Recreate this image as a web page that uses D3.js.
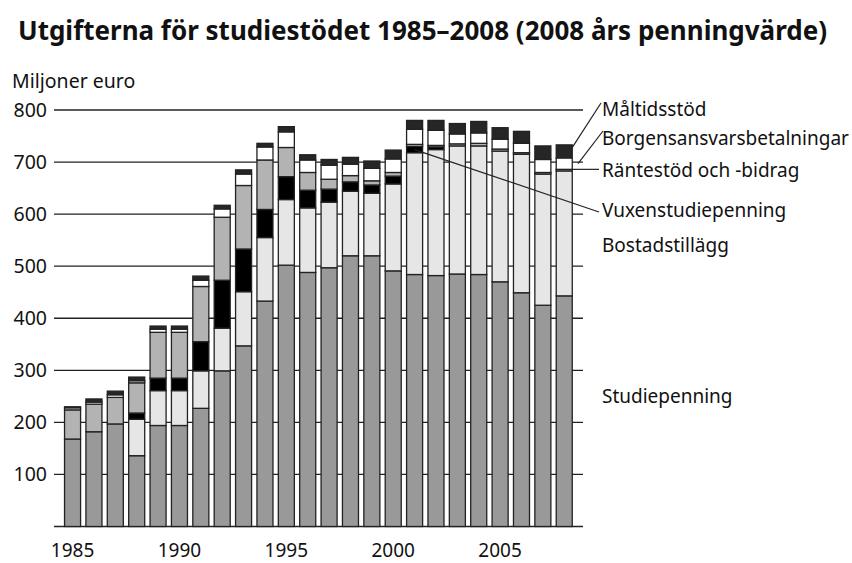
<!DOCTYPE html>
<html>
<head>
<meta charset="utf-8">
<script src="https://cdn.jsdelivr.net/npm/d3@7"></script>
<style>
  body { margin: 0; background: #fff; }
  text { font-family: "Noto Sans", sans-serif; fill: #111; }
</style>
</head>
<body>
<div id="chart"></div>
<script>
// years and series (million euro, 2008 money), stacked bottom -> top
const years = d3.range(1985, 2009)
const studiepenning = [168,182,197,136,194,194,227,299,347,433,502,488,497,520,520,491,484,482,485,484,470,449,425,443]
const bostadstillagg = [0,0,0,70,67,67,72,82,104,122,126,124,126,124,120,167,234,242,246,247,251,266,252,240]
const vuxenstudiepenning = [0,0,0,12,24,24,56,92,82,54,44,34,25,18,16,15,12,5,0,0,0,0,0,0]
const rantestod = [56,53,51,58,88,88,106,121,122,95,56,34,19,12,8,7,4,3,4,5,4,3,3,3]
const borgensansvar = [4,4,5,4,6,6,12,16,22,25,30,24,27,22,24,26,29,29,19,20,19,18,25,22]
const maltidsstod = [2,6,7,7,6,6,8,7,8,7,10,10,11,13,14,17,17,19,20,22,22,23,26,25]
const yTicks = [100,200,300,400,500,600,700,800]
const xTicks = [1985,1990,1995,2000,2005]

const series = [
  {key: "Studiepenning", values: studiepenning, color: "#999999"},
  {key: "Bostadstillägg", values: bostadstillagg, color: "#e6e6e6"},
  {key: "Vuxenstudiepenning", values: vuxenstudiepenning, color: "#000000"},
  {key: "Räntestöd och -bidrag", values: rantestod, color: "#b3b3b3"},
  {key: "Borgensansvarsbetalningar", values: borgensansvar, color: "#ffffff"},
  {key: "Måltidsstöd", values: maltidsstod, color: "#262626"}
]

const rows = years.map((yr, i) => {
  const r = {year: yr}
  series.forEach(s => r[s.key] = s.values[i])
  return r
})

const svg = d3.select("#chart").append("svg")
    .attr("width", 852)
    .attr("height", 563)

const x = d3.scaleBand().domain(years).range([59.2, 577.6]).padding(0.25)
const y = d3.scaleLinear().domain([0, 800]).range([526.5, 110])

svg.append("text")
    .attr("x", 18).attr("y", 40)
    .style("font-size", "26px").style("font-weight", "bold")
    .text("Utgifterna för studiestödet 1985–2008 (2008 års penningvärde)")

svg.append("text")
    .attr("x", 12).attr("y", 88)
    .style("font-size", "19.5px")
    .text("Miljoner euro")

// gridlines
svg.append("g").selectAll("line")
  .data([0].concat(yTicks))
  .enter().append("line")
    .attr("x1", 54).attr("x2", 583)
    .attr("y1", d => y(d)).attr("y2", d => y(d))
    .attr("stroke", "#222").attr("stroke-width", 1.3)

svg.append("g").selectAll("text")
  .data(yTicks)
  .enter().append("text")
    .attr("x", 47).attr("y", d => y(d) + 6.5)
    .attr("text-anchor", "end")
    .style("font-size", "19.5px")
    .text(d => d)

svg.append("g").selectAll("text")
  .data(xTicks)
  .enter().append("text")
    .attr("x", d => x(d) + x.bandwidth() / 2).attr("y", 557)
    .attr("text-anchor", "middle")
    .style("font-size", "19px")
    .text(d => d)

const stack = d3.stack().keys(series.map(s => s.key))
const stacked = stack(rows)

svg.append("g").selectAll("g")
  .data(stacked)
  .enter().append("g")
    .attr("fill", (d, i) => series[i].color)
  .selectAll("rect")
  .data(d => d)
  .enter().append("rect")
    .attr("x", d => x(d.data.year))
    .attr("width", x.bandwidth())
    .attr("y", d => y(d[1]))
    .attr("height", d => y(d[0]) - y(d[1]))
    .attr("stroke", "#222").attr("stroke-width", 1.3)
    .style("display", d => d[1] - d[0] > 0 ? null : "none")

// labels with pointer lines
const last = stacked.map(s => s[s.length - 1])
const bar2001 = stacked[2][years.indexOf(2001)]
const xr = x(2008) + x.bandwidth()

const labels = [
  {text: "Måltidsstöd", ty: 116, line: [[601, 103], [572, y(last[5][1]) + 3]]},
  {text: "Borgensansvarsbetalningar", ty: 145, line: [[603, 131], [578, y((last[4][0] + last[4][1]) / 2)]]},
  {text: "Räntestöd och -bidrag", ty: 177, line: [[599, y(last[3][1])], [xr, y(last[3][1])]]},
  {text: "Vuxenstudiepenning", ty: 217, line: [[599, 212], [x(2001) + x.bandwidth() / 2, y((bar2001[0] + bar2001[1]) / 2)]]},
  {text: "Bostadstillägg", ty: 252, line: null},
  {text: "Studiepenning", ty: 403, line: null}
]

svg.append("g").selectAll("text")
  .data(labels)
  .enter().append("text")
    .attr("x", 602).attr("y", d => d.ty)
    .style("font-size", "19px")
    .text(d => d.text)

svg.append("g").selectAll("line")
  .data(labels.filter(d => d.line))
  .enter().append("line")
    .attr("x1", d => d.line[0][0]).attr("y1", d => d.line[0][1])
    .attr("x2", d => d.line[1][0]).attr("y2", d => d.line[1][1])
    .attr("stroke", "#222").attr("stroke-width", 1.2)
</script>
</body>
</html>
